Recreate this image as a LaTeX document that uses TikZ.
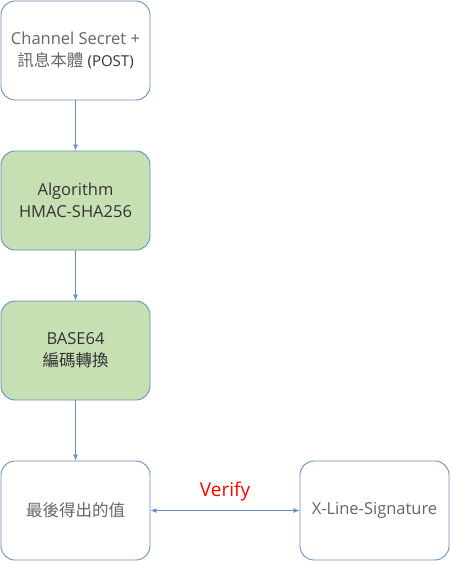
\documentclass[tikz,border=0pt]{standalone}
\usepackage{fontspec}
\setmainfont{Open Sans}
\newfontfamily\cjk{Noto Sans CJK TC}
\usetikzlibrary{arrows.meta}
\definecolor{bordc}{HTML}{6C8EBF}
\definecolor{greenf}{HTML}{C6E0B4}
\definecolor{greyt}{HTML}{666666}
\definecolor{darkt}{HTML}{333333}
\tikzset{
  box/.style={draw=bordc, line width=0.9pt, rounded corners=14pt, minimum width=149pt, minimum height=99pt, align=center, inner sep=0pt, font=\fontsize{16.5}{22}\selectfont},
  plainbox/.style={box, fill=white, text=greyt},
  greenbox/.style={box, fill=greenf, text=darkt},
  conn/.style={draw=bordc, line width=0.8pt, -{Latex[length=6pt,width=5pt]}},
  biconn/.style={draw=bordc, line width=0.8pt, {Latex[length=6pt,width=5pt]}-{Latex[length=6pt,width=5pt]}}
}
\begin{document}
\begin{tikzpicture}[x=1pt,y=-1pt]
\useasboundingbox (0,0) rectangle (450,561);
\node[plainbox] (a) at (75.5,50.5) {Channel Secret +\\{\cjk 訊息本體} {\fontsize{15}{22}\selectfont\color{darkt}(POST)}};
\node[greenbox] (b) at (75.5,200.5) {Algorithm\\HMAC-SHA256};
\node[greenbox] (c) at (75.5,350.5) {BASE64\\{\cjk 編碼轉換}};
\node[plainbox] (d) at (75.5,510.5) {{\cjk 最後得出的值}};
\node[plainbox] (e) at (374.5,510.5) {X-Line-Signature};
\draw[conn] (a) -- (b);
\draw[conn] (b) -- (c);
\draw[conn] (c) -- (d);
\draw[biconn] (d) -- (e) node[midway, above=6pt, text=red, font=\fontsize{19}{20}\selectfont] (v) {Verify};
\end{tikzpicture}
\end{document}
